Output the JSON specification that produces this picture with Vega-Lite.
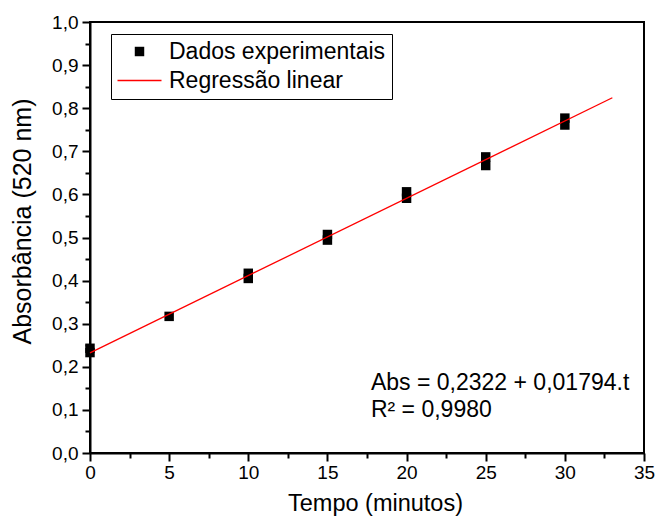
{
  "$schema": "https://vega.github.io/schema/vega-lite/v6.json",
  "autosize": {"type": "none"},
  "padding": {"left": 90, "top": 22, "right": 13, "bottom": 64},
  "width": 554,
  "height": 431,
  "background": "white",
  "config": {
    "font": "Liberation Sans",
    "view": {"stroke": "black", "strokeWidth": 2},
    "axis": {
      "domainColor": "black",
      "domainWidth": 2,
      "tickColor": "black",
      "tickWidth": 2,
      "labelColor": "black",
      "titleColor": "black",
      "titleFontWeight": "normal",
      "labelFontSize": 19,
      "grid": false,
      "labelFlush": false,
      "labelBound": false,
      "labelOverlap": false
    },
    "legend": {
      "title": null,
      "orient": "none",
      "legendX": 21,
      "legendY": 12,
      "strokeColor": "black",
      "fillColor": "white",
      "padding": 6,
      "labelFontSize": 23,
      "labelColor": "black",
      "labelLimit": 500,
      "labelOffset": 18,
      "symbolOffset": 11,
      "rowPadding": 5,
      "symbolSize": 484,
      "symbolStrokeWidth": 0,
      "symbolOpacity": 1
    }
  },
  "resolve": {"axis": {"x": "independent", "y": "independent"}},
  "data": {
    "values": [
      {"serie": "Dados experimentais", "t": 0, "abs": 0.243},
      {"serie": "Dados experimentais", "t": 0, "abs": 0.233},
      {"serie": "Dados experimentais", "t": 5, "abs": 0.317},
      {"serie": "Dados experimentais", "t": 10, "abs": 0.417},
      {"serie": "Dados experimentais", "t": 10, "abs": 0.405},
      {"serie": "Dados experimentais", "t": 15, "abs": 0.507},
      {"serie": "Dados experimentais", "t": 15, "abs": 0.494},
      {"serie": "Dados experimentais", "t": 20, "abs": 0.606},
      {"serie": "Dados experimentais", "t": 20, "abs": 0.591},
      {"serie": "Dados experimentais", "t": 25, "abs": 0.687},
      {"serie": "Dados experimentais", "t": 25, "abs": 0.667},
      {"serie": "Dados experimentais", "t": 30, "abs": 0.777},
      {"serie": "Dados experimentais", "t": 30, "abs": 0.761},
      {"serie": "Regressão linear", "t": 0, "abs": 0.2322},
      {"serie": "Regressão linear", "t": 33, "abs": 0.8242}
    ]
  },
  "layer": [
    {
      "transform": [{"filter": "datum.serie === 'Dados experimentais'"}],
      "mark": {"type": "point", "filled": true, "size": 484, "opacity": 1, "strokeWidth": 0},
      "encoding": {
        "x": {
          "field": "t", "type": "quantitative",
          "scale": {"domain": [0, 35], "nice": false, "zero": false},
          "axis": {
            "orient": "bottom",
            "title": "Tempo (minutos)",
            "titleFontSize": 23.5,
            "titlePadding": 9,
            "titleX": 285,
            "labelPadding": 2,
            "tickSize": 8,
            "values": [0, 5, 10, 15, 20, 25, 30, 35]
          }
        },
        "y": {
          "field": "abs", "type": "quantitative",
          "scale": {"domain": [0, 1], "nice": false},
          "axis": {
            "orient": "left",
            "title": "Absorbância (520 nm)",
            "titleFontSize": 25,
            "titlePadding": 16,
            "titleY": 199,
            "labelPadding": 4,
            "tickSize": 8,
            "values": [0, 0.1, 0.2, 0.3, 0.4, 0.5, 0.6, 0.7, 0.8, 0.9, 1.0],
            "labelExpr": "replace(format(datum.value, '.1f'), '.', ',')"
          }
        },
        "color": {
          "field": "serie", "type": "nominal",
          "scale": {"domain": ["Dados experimentais", "Regressão linear"], "range": ["black", "red"]}
        },
        "shape": {
          "field": "serie", "type": "nominal",
          "scale": {
            "domain": ["Dados experimentais", "Regressão linear"],
            "range": ["M-0.43,-0.43H0.43V0.43H-0.43Z", "M-2,-0.065H2V0.065H-2Z"]
          }
        }
      }
    },
    {
      "transform": [{"filter": "datum.serie === 'Regressão linear'"}],
      "mark": {"type": "line", "strokeWidth": 1.3},
      "encoding": {
        "x": {
          "field": "t", "type": "quantitative",
          "axis": {
            "orient": "bottom",
            "title": null,
            "labels": false,
            "domain": false,
            "tickSize": 5,
            "values": [2.5, 7.5, 12.5, 17.5, 22.5, 27.5, 32.5]
          }
        },
        "y": {
          "field": "abs", "type": "quantitative",
          "axis": {
            "orient": "left",
            "title": null,
            "labels": false,
            "domain": false,
            "tickSize": 5,
            "values": [0.05, 0.15, 0.25, 0.35, 0.45, 0.55, 0.65, 0.75, 0.85, 0.95]
          }
        },
        "color": {"field": "serie", "type": "nominal"}
      }
    },
    {
      "data": {"values": [{"txt": "Abs = 0,2322 + 0,01794.t"}]},
      "mark": {"type": "text", "align": "left", "baseline": "alphabetic", "fontSize": 23, "color": "black"},
      "encoding": {
        "x": {"datum": 17.75, "type": "quantitative", "axis": null},
        "y": {"datum": 0.1455, "type": "quantitative", "axis": null},
        "text": {"field": "txt"}
      }
    },
    {
      "data": {"values": [{"txt": "R² = 0,9980"}]},
      "mark": {"type": "text", "align": "left", "baseline": "alphabetic", "fontSize": 23, "color": "black"},
      "encoding": {
        "x": {"datum": 17.75, "type": "quantitative", "axis": null},
        "y": {"datum": 0.0836, "type": "quantitative", "axis": null},
        "text": {"field": "txt"}
      }
    }
  ]
}
